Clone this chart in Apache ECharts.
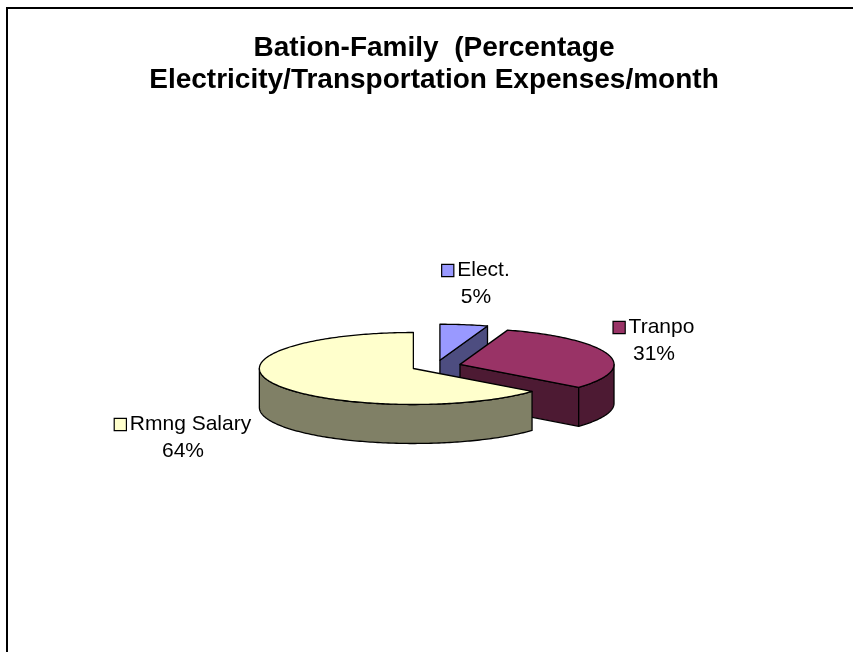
<!DOCTYPE html>
<html>
<head>
<meta charset="utf-8">
<script src="https://cdn.jsdelivr.net/npm/echarts@6/dist/echarts.min.js"></script>
<style>html,body{margin:0;padding:0;background:#fff}#c{width:853px;height:652px}</style>
</head>
<body>
<div id="c"></div>
<script>
// ---- data ----
const categories = ['Elect.', 'Tranpo', 'Rmng Salary'];
const values = [5, 31, 64];
const titleLines = ['Bation-Family  (Percentage', 'Electricity/Transportation Expenses/month'];

// ---- styles / layout ----
const topColors = ['#9999FF', '#993366', '#FFFFCC'];
const sideColors = ['#4D4D80', '#4D1A33', '#808066'];
const FONT = '"Liberation Sans", Arial, sans-serif';
const LAYOUT = { cx: 436, cy: 366, rx: 154, ry: 36, depth: 39, explode: 25 };
const LABEL_POS = [[476, 284], [654, 341], [183, 438]];

const total = values.reduce((a, b) => a + b, 0);
const cum = [];
values.reduce((acc, v, i) => { cum[i] = acc; return acc + v; }, 0);
const rad = d => d * Math.PI / 180;

function renderItem(params, api) {
  const i = params.dataIndex;
  const v = api.value(0);
  const L = LAYOUT, K = L.ry / L.rx;
  const a0 = cum[i] / total * 360, a1 = (cum[i] + v) / total * 360, mid = (a0 + a1) / 2;
  const ax = L.cx + L.explode * Math.sin(rad(mid));
  const ay = L.cy - L.explode * Math.cos(rad(mid)) * K;
  const rim = (phi, dy) => [ax + L.rx * Math.sin(rad(phi)), ay - L.ry * Math.cos(rad(phi)) + (dy || 0)];
  const arc = (s, e, dy) => {
    const pts = [];
    const n = Math.max(2, Math.ceil((e - s) / 1));
    for (let k = 0; k <= n; k++) pts.push(rim(s + (e - s) * k / n, dy));
    return pts;
  };
  const stroke = { stroke: '#000', lineWidth: 1.3, lineJoin: 'round' };
  const children = [];
  // radial faces
  if (Math.sin(rad(a0)) < -1e-6) {
    const p = rim(a0);
    children.push({ type: 'polygon', shape: { points: [[ax, ay], p, [p[0], p[1] + L.depth], [ax, ay + L.depth]] },
      style: Object.assign({ fill: sideColors[i] }, stroke) });
  }
  if (Math.sin(rad(a1)) > 1e-6) {
    const p = rim(a1);
    children.push({ type: 'polygon', shape: { points: [[ax, ay], p, [p[0], p[1] + L.depth], [ax, ay + L.depth]] },
      style: Object.assign({ fill: sideColors[i] }, stroke) });
  }
  // curved side
  const s = Math.max(a0, 90), e = Math.min(a1, 270);
  if (e > s) {
    const pts = arc(s, e, 0).concat(arc(s, e, L.depth).reverse());
    children.push({ type: 'polygon', shape: { points: pts }, style: Object.assign({ fill: sideColors[i] }, stroke) });
  }
  // top face
  children.push({ type: 'polygon', shape: { points: [[ax, ay]].concat(arc(a0, a1, 0)) },
    style: Object.assign({ fill: topColors[i] }, stroke) });
  // label
  const pct = Math.round(v / total * 100) + '%';
  children.push({
    type: 'text', x: LABEL_POS[i][0], y: LABEL_POS[i][1], z2: 100,
    style: {
      text: '{k|}{t|' + categories[i] + '}\n{p|' + pct + '}',
      align: 'center', verticalAlign: 'middle',
      fill: '#000', fontFamily: FONT, fontSize: 21,
      rich: {
        k: { width: 11, height: 11, backgroundColor: topColors[i], borderColor: '#000', borderWidth: 1.2 },
        t: { fontFamily: FONT, fontSize: 21, padding: [0, 0, 0, 4], lineHeight: 27 },
        p: { fontFamily: FONT, fontSize: 21, lineHeight: 27 }
      }
    }
  });
  return { type: 'group', children: children };
}

const chart = echarts.init(document.getElementById('c'), null, { renderer: 'canvas' });
chart.setOption({
  backgroundColor: '#fff',
  animation: false,
  title: {
    text: titleLines.join('\n'),
    left: 434, top: 32, textAlign: 'center', padding: 0,
    textStyle: { fontFamily: FONT, fontWeight: 'bold', fontSize: 28, lineHeight: 32, color: '#000' }
  },
  graphic: [{
    type: 'rect', shape: { x: 7, y: 8, width: 1000, height: 1000 }, z: -10,
    style: { fill: 'none', stroke: '#000', lineWidth: 2 }
  }],
  series: [{
    type: 'custom',
    coordinateSystem: 'none',
    renderItem: renderItem,
    data: values.map((v, i) => ({ name: categories[i], value: [v] }))
  }]
});
</script>
</body>
</html>
